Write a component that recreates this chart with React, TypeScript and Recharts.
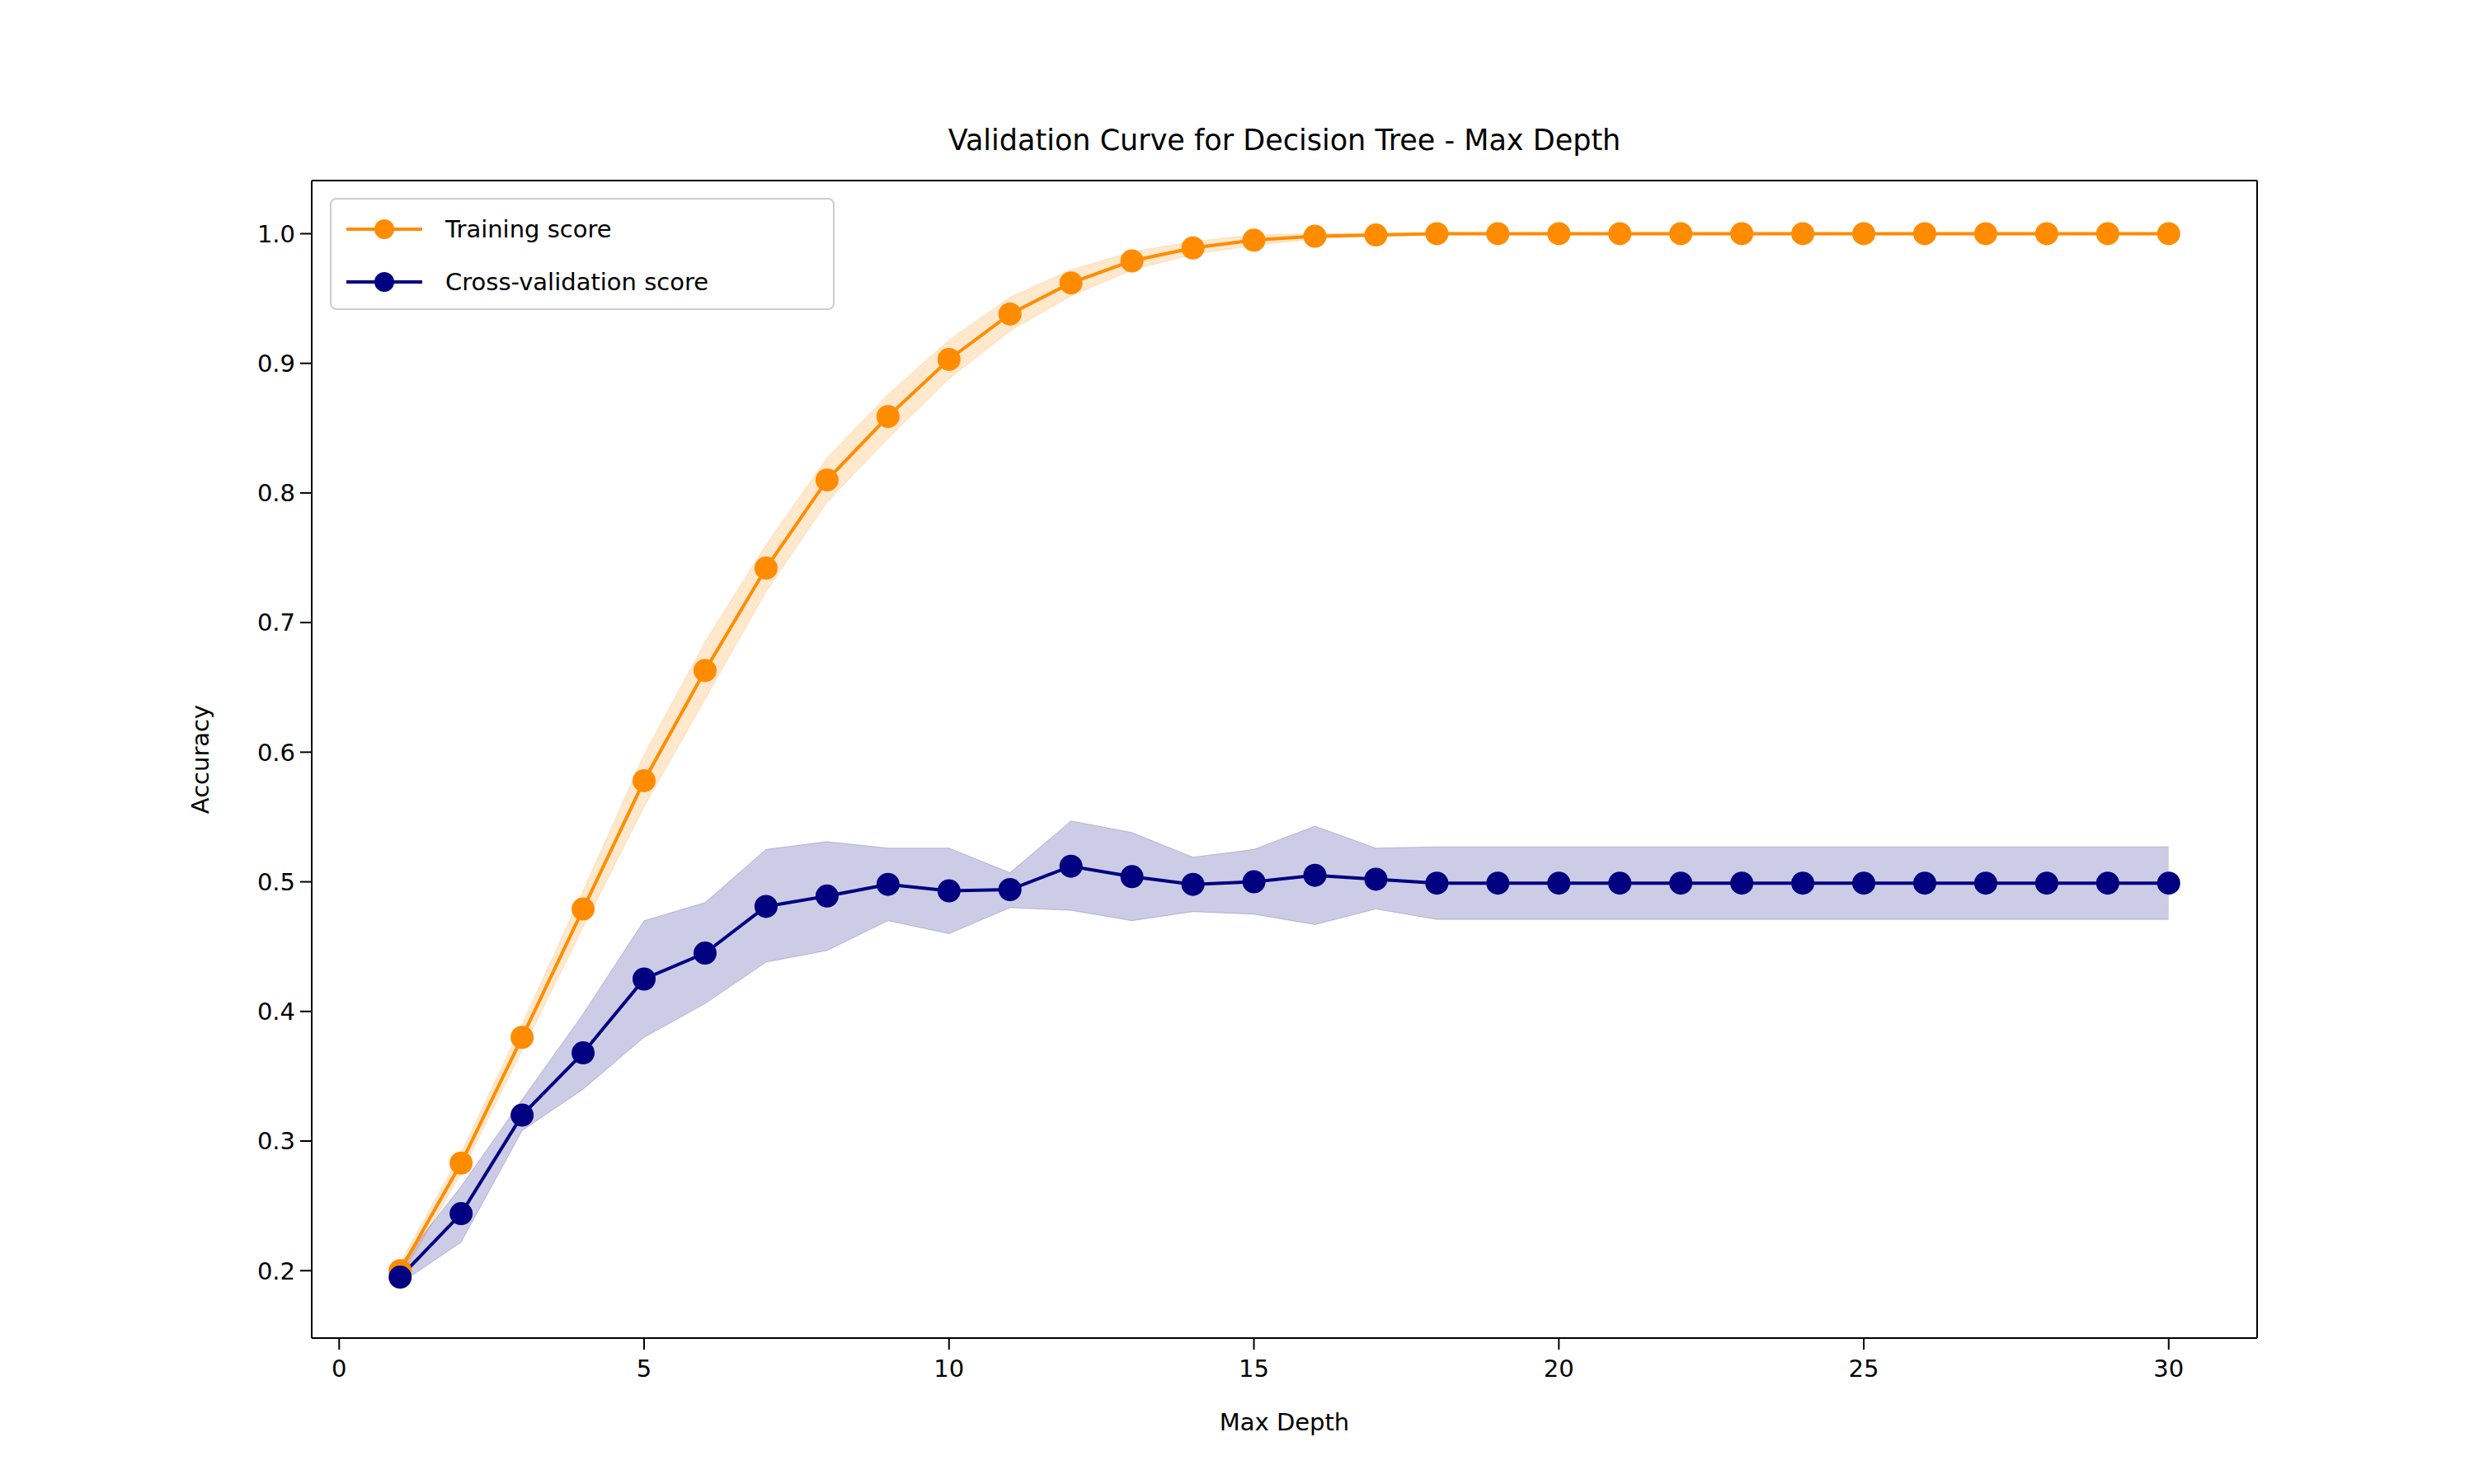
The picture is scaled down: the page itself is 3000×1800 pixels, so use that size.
import { ComposedChart, Line, Area, XAxis, YAxis } from "recharts";

const depths = Array.from({ length: 30 }, (_, i) => i + 1);
const trainMean = [0.2, 0.283, 0.38, 0.479, 0.578, 0.663, 0.742, 0.81, 0.859, 0.903, 0.938, 0.962, 0.979, 0.989, 0.995, 0.998, 0.999, 1, 1, 1, 1, 1, 1, 1, 1, 1, 1, 1, 1, 1];
const trainStd = [0.006, 0.008, 0.01, 0.014, 0.02, 0.022, 0.018, 0.017, 0.017, 0.015, 0.013, 0.01, 0.007, 0.005, 0.004, 0.002, 0.001, 0.001, 0, 0, 0, 0, 0, 0, 0, 0, 0, 0, 0, 0];
const cvMean = [0.195, 0.244, 0.32, 0.368, 0.425, 0.445, 0.481, 0.489, 0.498, 0.493, 0.494, 0.512, 0.504, 0.498, 0.5, 0.505, 0.502, 0.499, 0.499, 0.499, 0.499, 0.499, 0.499, 0.499, 0.499, 0.499, 0.499, 0.499, 0.499, 0.499];
const cvUpper = [0.205, 0.265, 0.332, 0.398, 0.47, 0.484, 0.525, 0.531, 0.526, 0.526, 0.507, 0.547, 0.538, 0.519, 0.525, 0.543, 0.526, 0.527, 0.527, 0.527, 0.527, 0.527, 0.527, 0.527, 0.527, 0.527, 0.527, 0.527, 0.527, 0.527];
const cvLower = [0.19, 0.222, 0.308, 0.34, 0.38, 0.406, 0.438, 0.447, 0.47, 0.46, 0.48, 0.478, 0.47, 0.477, 0.475, 0.467, 0.479, 0.471, 0.471, 0.471, 0.471, 0.471, 0.471, 0.471, 0.471, 0.471, 0.471, 0.471, 0.471, 0.471];
const xTicks = [0, 5, 10, 15, 20, 25, 30];
const yTicks = [0.2, 0.3, 0.4, 0.5, 0.6, 0.7, 0.8, 0.9, 1.0];

const ORANGE = "#ff8c00";
const NAVY = "#000080";
const FONT = "'DejaVu Sans', sans-serif";

const data = depths.map((d, i) => ({
  depth: d,
  train: trainMean[i],
  trainBand: [trainMean[i] - trainStd[i], trainMean[i] + trainStd[i]],
  cv: cvMean[i],
  cvBand: [cvLower[i], cvUpper[i]],
}));

const tickStyle = { fontSize: 29, fill: "#000", fontFamily: FONT };

function LegendRow({ color, label }: { color: string; label: string }) {
  return (
    <div style={{ display: "flex", alignItems: "center", height: 64 }}>
      <svg width={100} height={30}>
        <line x1={4} y1={15} x2={96} y2={15} stroke={color} strokeWidth={4} />
        <circle cx={50} cy={15} r={12} fill={color} />
      </svg>
      <span style={{ marginLeft: 24 }}>{label}</span>
    </div>
  );
}

export default function App() {
  return (
    <div style={{ position: "absolute", left: 0, top: 0, width: 3000, height: 1800, background: "#fff", fontFamily: FONT }}>
      <ComposedChart width={3000} height={1800} data={data} margin={{ top: 218, right: 262, bottom: 117, left: 278 }}>
        <XAxis dataKey="depth" type="number" domain={[-0.45, 31.45]} ticks={xTicks} height={60} tick={{ ...tickStyle, dy: 10 }} tickSize={14} stroke="#000" strokeWidth={2} />
        <XAxis xAxisId="top" dataKey="depth" type="number" domain={[-0.45, 31.45]} orientation="top" height={1} tick={false} tickLine={false} stroke="#000" strokeWidth={2} />
        <YAxis type="number" domain={[0.148, 1.041]} ticks={yTicks} width={100} tickFormatter={(v) => v.toFixed(1)} tick={{ ...tickStyle, dx: -4 }} tickSize={14} stroke="#000" strokeWidth={2} />
        <YAxis yAxisId="right" type="number" domain={[0.148, 1.041]} orientation="right" width={1} tick={false} tickLine={false} stroke="#000" strokeWidth={2} />
        <Area dataKey="trainBand" fill={ORANGE} fillOpacity={0.2} stroke={ORANGE} strokeOpacity={0.2} isAnimationActive={false} />
        <Area dataKey="cvBand" fill={NAVY} fillOpacity={0.2} stroke={NAVY} strokeOpacity={0.2} isAnimationActive={false} />
        <Line dataKey="train" stroke={ORANGE} strokeWidth={4} dot={{ r: 12, fill: ORANGE, stroke: ORANGE }} isAnimationActive={false} />
        <Line dataKey="cv" stroke={NAVY} strokeWidth={4} dot={{ r: 12, fill: NAVY, stroke: NAVY }} isAnimationActive={false} />
      </ComposedChart>
      <div style={{ position: "absolute", top: 150, left: 378, width: 2359, textAlign: "center", fontSize: 35 }}>
        Validation Curve for Decision Tree - Max Depth
      </div>
      <div style={{ position: "absolute", top: 1708, left: 378, width: 2359, textAlign: "center", fontSize: 29 }}>
        Max Depth
      </div>
      <div style={{ position: "absolute", left: 243, top: 921, transform: "translate(-50%, -50%) rotate(-90deg)", fontSize: 29 }}>
        Accuracy
      </div>
      <div style={{ position: "absolute", left: 400, top: 240, width: 612, height: 136, boxSizing: "border-box", border: "2px solid #ccc", borderRadius: 8, background: "rgba(255,255,255,0.8)", fontSize: 29, padding: "4px 14px" }}>
        <LegendRow color={ORANGE} label="Training score" />
        <LegendRow color={NAVY} label="Cross-validation score" />
      </div>
    </div>
  );
}
